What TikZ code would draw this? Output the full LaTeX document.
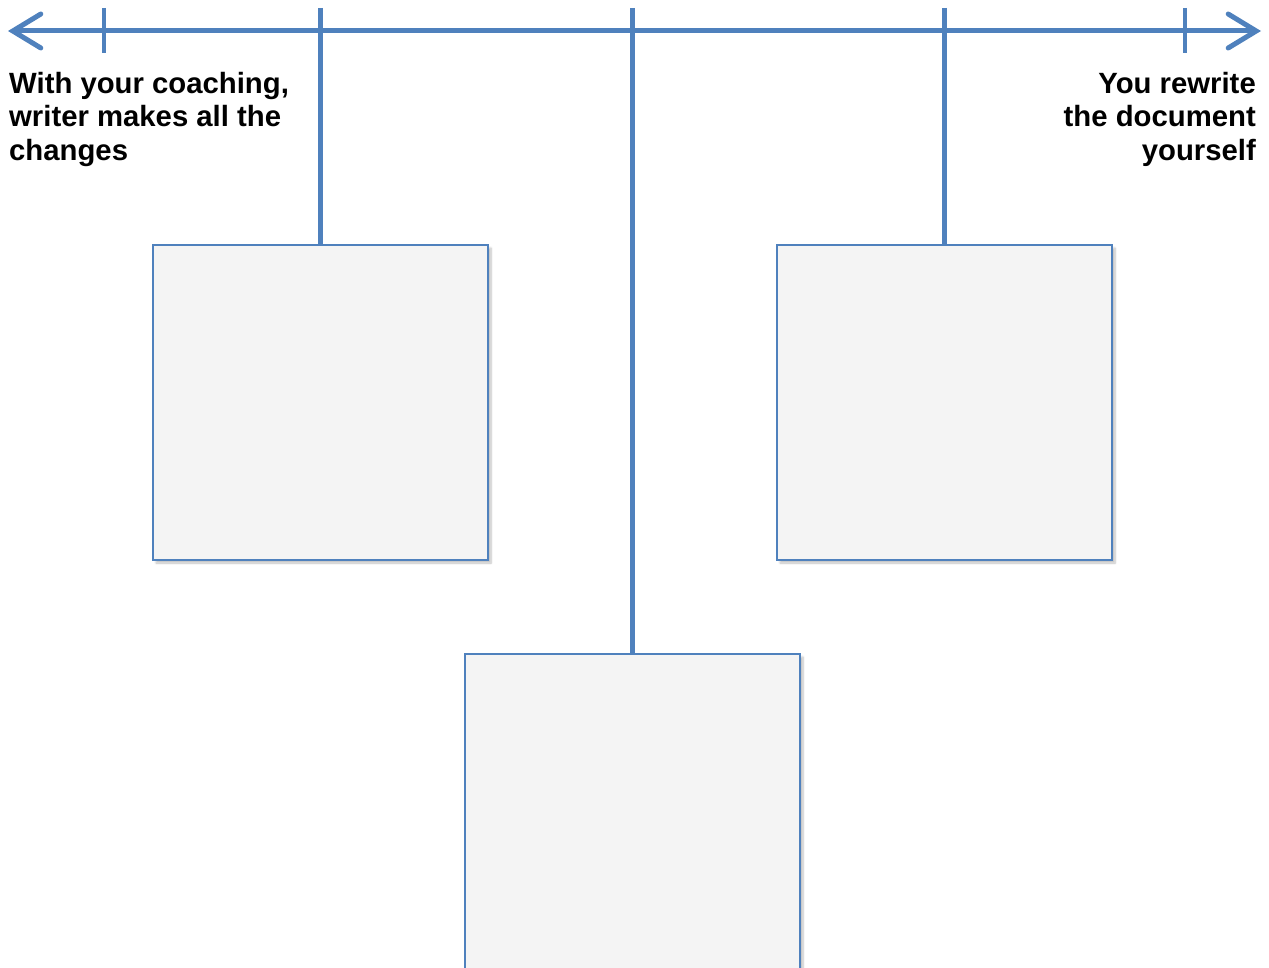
\documentclass[tikz,border=0pt]{standalone}
\usepackage{fontspec}
\setmainfont{Liberation Sans}
\usetikzlibrary{arrows.meta,shadows.blur}
\definecolor{axisblue}{HTML}{4F81BD}
\definecolor{boxfill}{HTML}{F4F4F4}
\tikzset{
  axisline/.style={draw=axisblue, line width=5pt, line cap=butt},
  tickline/.style={draw=axisblue, line width=4pt},
  emptybox/.style={draw=axisblue, line width=2pt, fill=boxfill, minimum width=335pt, minimum height=315pt, inner sep=0pt, anchor=north, blur shadow={shadow xshift=3pt, shadow yshift=-3pt, shadow blur steps=6, shadow opacity=25}},
  label/.style={font=\bfseries\fontsize{29.3pt}{33.5pt}\selectfont, inner sep=0pt, align=left}
}
\begin{document}
\begin{tikzpicture}[x=1pt,y=-1pt]
\useasboundingbox (0,0) rectangle (1269,968);
% axis end points
\coordinate (L) at (8,31);
\coordinate (R) at (1261,31);
% tick and connector tops
\coordinate (t1a) at (104,8);  \coordinate (t1b) at (104,53);
\coordinate (t2a) at (1185,8); \coordinate (t2b) at (1185,53);
\coordinate (c1) at (320.5,8);
\coordinate (c2) at (632.5,8);
\coordinate (c3) at (944.5,8);
% boxes
\node[emptybox] (b1) at (320.5,244) {};
\node[emptybox] (b3) at (944.5,244) {};
\node[emptybox] (b2) at (632.5,653) {};
% axis
\draw[axisline, {Straight Barb[length=28pt,width=34pt,line cap=round]}-{Straight Barb[length=28pt,width=34pt,line cap=round]}] (L) -- (R);
\draw[tickline] (t1a) -- (t1b);
\draw[tickline] (t2a) -- (t2b);
% connectors
\draw[axisline] (c1) -- (b1.north);
\draw[axisline] (c2) -- (b2.north);
\draw[axisline] (c3) -- (b3.north);
% labels
\node[label, anchor=north west] (lt) at (9,72) {With your coaching,\\writer makes all the\\changes};
\node[label, anchor=north east, align=right] (rt) at (1256,72) {You rewrite\\the document\\yourself};
\end{tikzpicture}
\end{document}
